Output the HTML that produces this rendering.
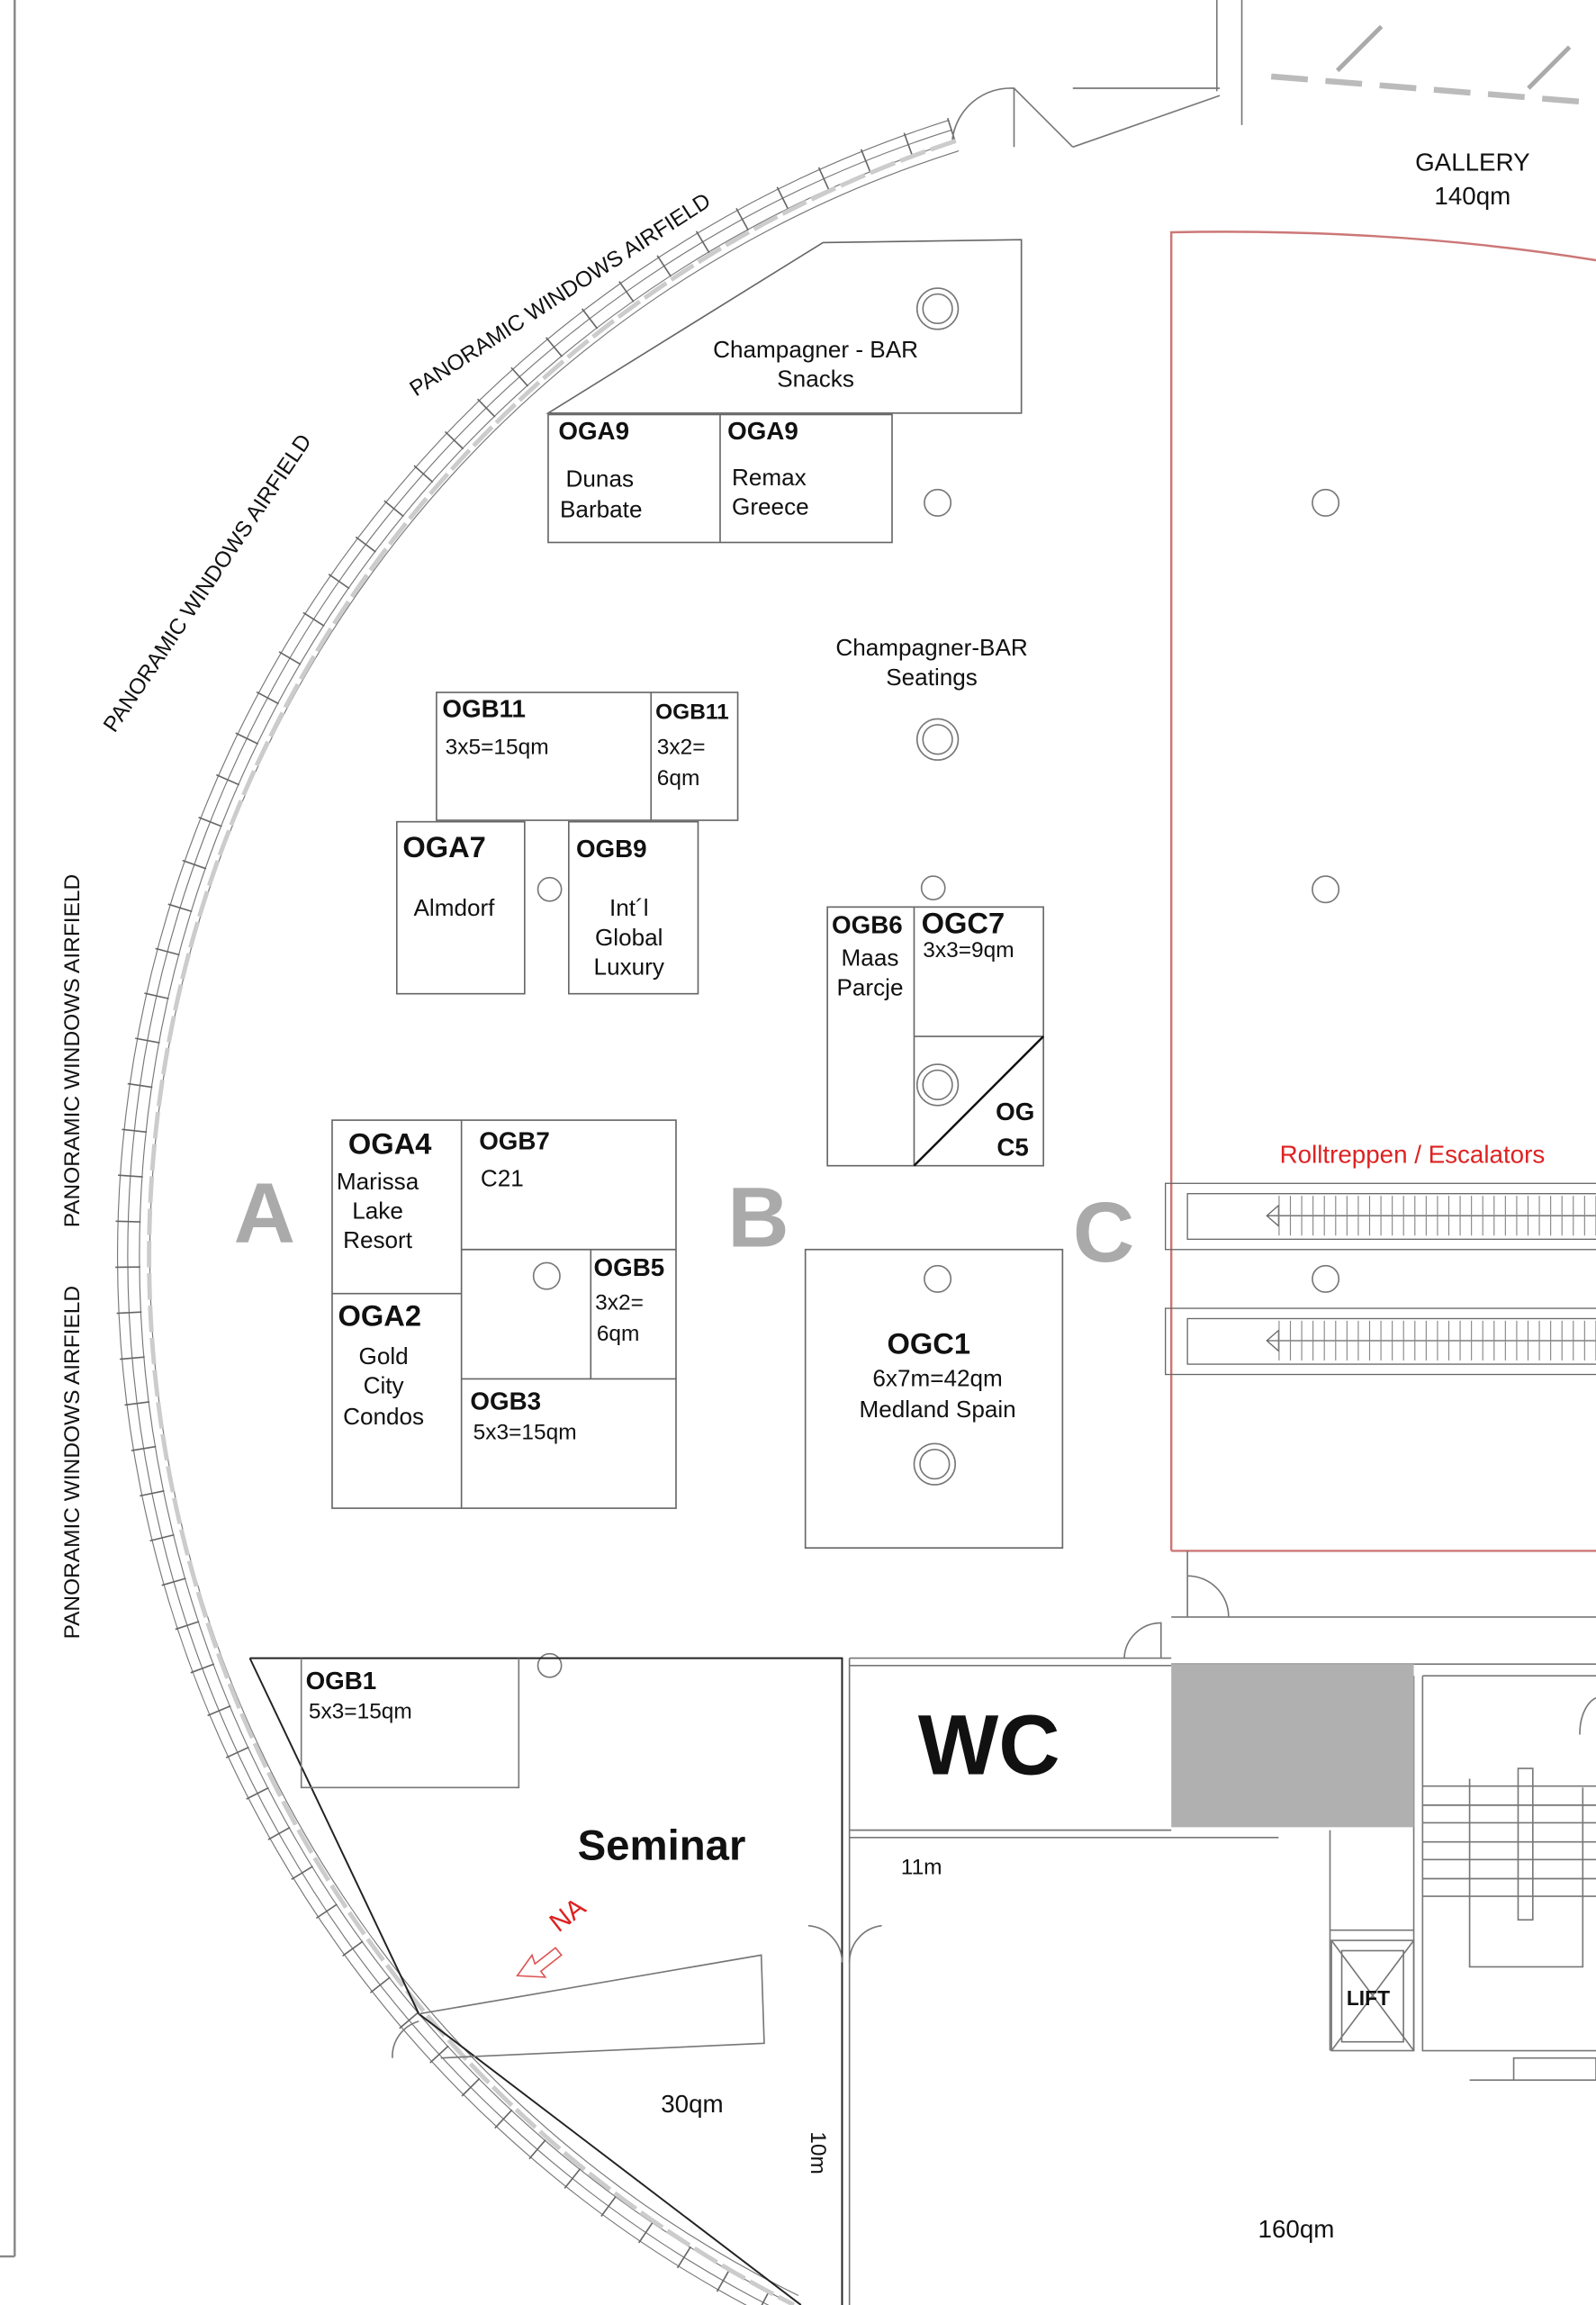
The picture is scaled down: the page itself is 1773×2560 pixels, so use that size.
<!DOCTYPE html>
<html><head><meta charset="utf-8"><style>
html,body{margin:0;padding:0;background:#fff}
svg{display:block}
text{font-family:"Liberation Sans Narrow","Liberation Sans",Arial,sans-serif;fill:#111}
.b{font-weight:bold;font-family:"Liberation Sans",Arial,sans-serif}
</style></head><body>
<svg width="1773" height="2560" viewBox="0 0 1086 1568" xmlns="http://www.w3.org/2000/svg">
<rect width="1086" height="1568" fill="#fff"/>
<line x1="10" y1="0" x2="10" y2="1535" stroke="#888" stroke-width="1.5"/>
<line x1="0" y1="1535" x2="10" y2="1535" stroke="#888" stroke-width="1.5"/>
<g fill="none" stroke="#777" stroke-width="0.7">
<path d="M652.4,102.6 A788,788 0 0 0 543.3,1561.6"/>
<path d="M650.3,95.9 A795,795 0 0 0 540.2,1567.9"/>
<path d="M647.9,88.3 A803,803 0 0 0 536.7,1575.1"/>
<path d="M645.8,81.7 A810,810 0 0 0 533.6,1581.4"/>
<path d="M647.9,88.3 A803,803 0 0 0 536.7,1575.1" stroke-width="17" stroke-dasharray="1 30" stroke="#666"/>
<path d="M650.3,95.9 A799,799 0 0 0 540.2,1567.9" stroke-width="3" stroke-dasharray="18 4" stroke="#ccc"/>
</g>
<g fill="none" stroke="#777" stroke-width="1">
<path d="M648,95 A40,40 0 0 1 690,60 L690,100"/>
<line x1="690" y1="60" x2="730" y2="100"/>
<line x1="730" y1="60" x2="830" y2="60"/><line x1="730" y1="100" x2="830" y2="65"/>
<line x1="828" y1="0" x2="828" y2="62"/><line x1="845" y1="0" x2="845" y2="85"/>
<line x1="865" y1="52" x2="1086" y2="70" stroke-dasharray="25 12" stroke-width="4" stroke="#bbb"/>
<line x1="910" y1="48" x2="940" y2="18" stroke-width="3" stroke="#aaa"/>
<line x1="1040" y1="60" x2="1068" y2="32" stroke-width="3" stroke="#aaa"/>
</g>
<path d="M797,1055 L797,158 Q950,155 1086,177" fill="none" stroke="#c77" stroke-width="1.5"/>
<line x1="797" y1="1055" x2="1086" y2="1055" stroke="#c77" stroke-width="1.5"/>
<text x="1002" y="116" font-size="17" text-anchor="middle">GALLERY</text>
<text x="1002" y="139" font-size="17" text-anchor="middle">140qm</text>
<text x="961" y="791" font-size="17" text-anchor="middle" style="fill:#d22">Rolltreppen / Escalators</text>
<g fill="none" stroke="#666" stroke-width="0.8">
<rect x="793" y="805" width="300" height="45"/><rect x="808" y="812" width="290" height="31"/>
<rect x="793" y="890" width="300" height="45"/><rect x="808" y="897" width="290" height="31"/>
<path d="M862,827 H1086" /><path d="M862,912 H1086"/>
<path d="M862,827 L870,820 L870,834 Z"/><path d="M862,912 L870,905 L870,919 Z"/>
<line x1="870" y1="827" x2="1086" y2="827" stroke-width="27" stroke-dasharray="0.7 7" stroke="#888"/>
<line x1="870" y1="912" x2="1086" y2="912" stroke-width="27" stroke-dasharray="0.7 7" stroke="#888"/>
</g>
<g fill="none" stroke="#666" stroke-width="1">
<path d="M373,281 L560,165 L695,163 L695,281 Z"/>
<rect x="373" y="282" width="234" height="87"/><line x1="490" y1="282" x2="490" y2="369"/>
<rect x="297" y="471" width="205" height="87"/><line x1="443" y1="471" x2="443" y2="558"/>
<rect x="270" y="559" width="87" height="117"/><rect x="387" y="559" width="88" height="117"/>
<rect x="563" y="617" width="147" height="176"/><line x1="622" y1="617" x2="622" y2="793"/><line x1="622" y1="705" x2="710" y2="705"/>
<rect x="226" y="762" width="234" height="264"/>
<line x1="314" y1="762" x2="314" y2="1026"/><line x1="314" y1="850" x2="460" y2="850"/>
<line x1="226" y1="880" x2="314" y2="880"/><line x1="402" y1="850" x2="402" y2="938"/><line x1="314" y1="938" x2="460" y2="938"/>
<rect x="548" y="850" width="175" height="203"/>
</g>
<line x1="710" y1="705" x2="622" y2="793" stroke="#111" stroke-width="1.5"/>
<g fill="none" stroke="#777" stroke-width="1">
<circle cx="638" cy="210" r="14"/><circle cx="638" cy="210" r="10"/>
<circle cx="638" cy="342" r="9"/><circle cx="902" cy="342" r="9"/>
<circle cx="638" cy="503" r="14"/><circle cx="638" cy="503" r="10"/>
<circle cx="635" cy="604" r="8"/><circle cx="902" cy="605" r="9"/><circle cx="374" cy="605" r="8"/>
<circle cx="638" cy="738" r="14"/><circle cx="638" cy="738" r="10"/>
<circle cx="372" cy="868" r="9"/><circle cx="638" cy="870" r="9"/><circle cx="902" cy="870" r="9"/>
<circle cx="636" cy="996" r="14"/><circle cx="636" cy="996" r="10"/>
<circle cx="374" cy="1133" r="8"/>
</g>
<text x="555" y="243" font-size="16" text-anchor="middle">Champagner - BAR</text>
<text x="555" y="263" font-size="16" text-anchor="middle">Snacks</text>
<text x="380" y="299" font-size="17" class="b">OGA9</text><text x="495" y="299" font-size="17" class="b">OGA9</text>
<text x="385" y="331" font-size="16">Dunas</text><text x="381" y="352" font-size="16">Barbate</text>
<text x="498" y="330" font-size="16">Remax</text><text x="498" y="350" font-size="16">Greece</text>
<text x="634" y="446" font-size="16" text-anchor="middle">Champagner-BAR</text>
<text x="634" y="466" font-size="16" text-anchor="middle">Seatings</text>
<text x="301" y="488" font-size="17" class="b">OGB11</text><text x="303" y="513" font-size="15">3x5=15qm</text>
<text x="446" y="489" font-size="15" class="b">OGB11</text><text x="447" y="513" font-size="15">3x2=</text><text x="447" y="534" font-size="15">6qm</text>
<text x="274" y="583" font-size="20" class="b">OGA7</text><text x="309" y="623" font-size="16" text-anchor="middle">Almdorf</text>
<text x="392" y="583" font-size="17" class="b">OGB9</text>
<text x="428" y="623" font-size="16" text-anchor="middle">Int´l</text><text x="428" y="643" font-size="16" text-anchor="middle">Global</text><text x="428" y="663" font-size="16" text-anchor="middle">Luxury</text>
<text x="566" y="635" font-size="17" class="b">OGB6</text><text x="627" y="635" font-size="20" class="b">OGC7</text>
<text x="592" y="657" font-size="16" text-anchor="middle">Maas</text><text x="592" y="677" font-size="16" text-anchor="middle">Parcje</text>
<text x="628" y="651" font-size="15">3x3=9qm</text>
<text x="704" y="762" font-size="17" class="b" text-anchor="end">OG</text><text x="700" y="786" font-size="17" class="b" text-anchor="end">C5</text>
<text x="237" y="785" font-size="20" class="b">OGA4</text>
<text x="257" y="809" font-size="16" text-anchor="middle">Marissa</text><text x="257" y="829" font-size="16" text-anchor="middle">Lake</text><text x="257" y="849" font-size="16" text-anchor="middle">Resort</text>
<text x="326" y="782" font-size="17" class="b">OGB7</text><text x="327" y="807" font-size="16">C21</text>
<text x="404" y="868" font-size="17" class="b">OGB5</text><text x="405" y="891" font-size="15">3x2=</text><text x="406" y="912" font-size="15">6qm</text>
<text x="230" y="902" font-size="20" class="b">OGA2</text>
<text x="261" y="928" font-size="16" text-anchor="middle">Gold</text><text x="261" y="948" font-size="16" text-anchor="middle">City</text><text x="261" y="969" font-size="16" text-anchor="middle">Condos</text>
<text x="320" y="959" font-size="17" class="b">OGB3</text><text x="322" y="979" font-size="15">5x3=15qm</text>
<text x="632" y="921" font-size="20" class="b" text-anchor="middle">OGC1</text>
<text x="638" y="943" font-size="16" text-anchor="middle">6x7m=42qm</text><text x="638" y="964" font-size="16" text-anchor="middle">Medland Spain</text>
<g font-size="58" class="b" text-anchor="middle"><text x="180" y="845" class="b" style="fill:#aaa">A</text><text x="516" y="848" class="b" style="fill:#aaa">B</text><text x="751" y="858" class="b" style="fill:#aaa">C</text></g>
<g font-size="15">
<text transform="translate(283,270) rotate(-33)">PANORAMIC WINDOWS  AIRFIELD</text>
<text transform="translate(78,499) rotate(-56)">PANORAMIC WINDOWS  AIRFIELD</text>
<text transform="translate(54,835) rotate(-90)">PANORAMIC WINDOWS  AIRFIELD</text>
<text transform="translate(54,1115) rotate(-90)">PANORAMIC WINDOWS  AIRFIELD</text>
</g>
<g fill="none" stroke="#222" stroke-width="1.2">
<path d="M170,1128 L573,1128 L573,1568"/>
<path d="M170,1128 L285,1370 L545,1568"/>
</g>
<g fill="none" stroke="#777" stroke-width="1">
<path d="M205,1128 V1216 H353 V1128"/>
<path d="M285,1370 L518,1330 L520,1390 L300,1400"/>
<path d="M578,1128 V1568"/>
<path d="M550,1310 A25,25 0 0 1 573,1335 M578,1335 A25,25 0 0 1 600,1310"/>
<path d="M267,1400 A25,25 0 0 1 285,1375"/>
</g>
<text x="393" y="1265" font-size="29" class="b">Seminar</text>
<text x="208" y="1149" font-size="17" class="b">OGB1</text><text x="210" y="1169" font-size="15">5x3=15qm</text>
<text transform="translate(380,1315) rotate(-38)" font-size="18" style="fill:#d22">NA</text>
<path d="M352,1344 L362,1330 L364,1336 L378,1325 L382,1330 L368,1341 L371,1345 Z" fill="none" stroke="#d55" stroke-width="1"/>
<text x="471" y="1437" font-size="17" text-anchor="middle">30qm</text>
<text transform="translate(552,1450) rotate(90)" font-size="15">10m</text>
<g fill="none" stroke="#777" stroke-width="1">
<path d="M578,1128 H797 M578,1133 H797 M578,1245 H797 M578,1250 H870"/>
<path d="M765,1128 A25,25 0 0 1 790,1104 V1128"/>
<path d="M808,1072 A28,28 0 0 1 836,1100 H808 M808,1055 V1100 M797,1100 H1086 M797,1132 H1086"/>
<path d="M905,1245 V1395 M962,1140 V1395 M905,1313 H962 M968,1140 H1086 M968,1140 V1395 H1086"/>
<rect x="906" y="1320" width="56" height="75"/><rect x="913" y="1327" width="42" height="62"/>
<path d="M906,1320 L962,1395 M962,1320 L906,1395"/>
<path d="M968,1215 H1086 M968,1228 H1086 M968,1240 H1086 M968,1253 H1086 M968,1265 H1086 M968,1278 H1086 M968,1290 H1086"/>
<rect x="1033" y="1203" width="10" height="103"/>
<path d="M1000,1210 V1338 H1077 V1216"/>
<path d="M1030,1400 H1086 V1415 H1030 Z M1000,1415 H1086"/>
<path d="M1086,1155 A15,25 0 0 0 1075,1180"/>
</g>
<rect x="797" y="1132" width="165" height="111" fill="#b0b0b0"/>
<text x="673" y="1207" font-size="58" class="b" text-anchor="middle">WC</text>
<text x="931" y="1364" font-size="14" class="b" text-anchor="middle">LIFT</text>
<text x="613" y="1275" font-size="15">11m</text>
<text x="882" y="1522" font-size="17" text-anchor="middle">160qm</text>
</svg>
</body></html>
